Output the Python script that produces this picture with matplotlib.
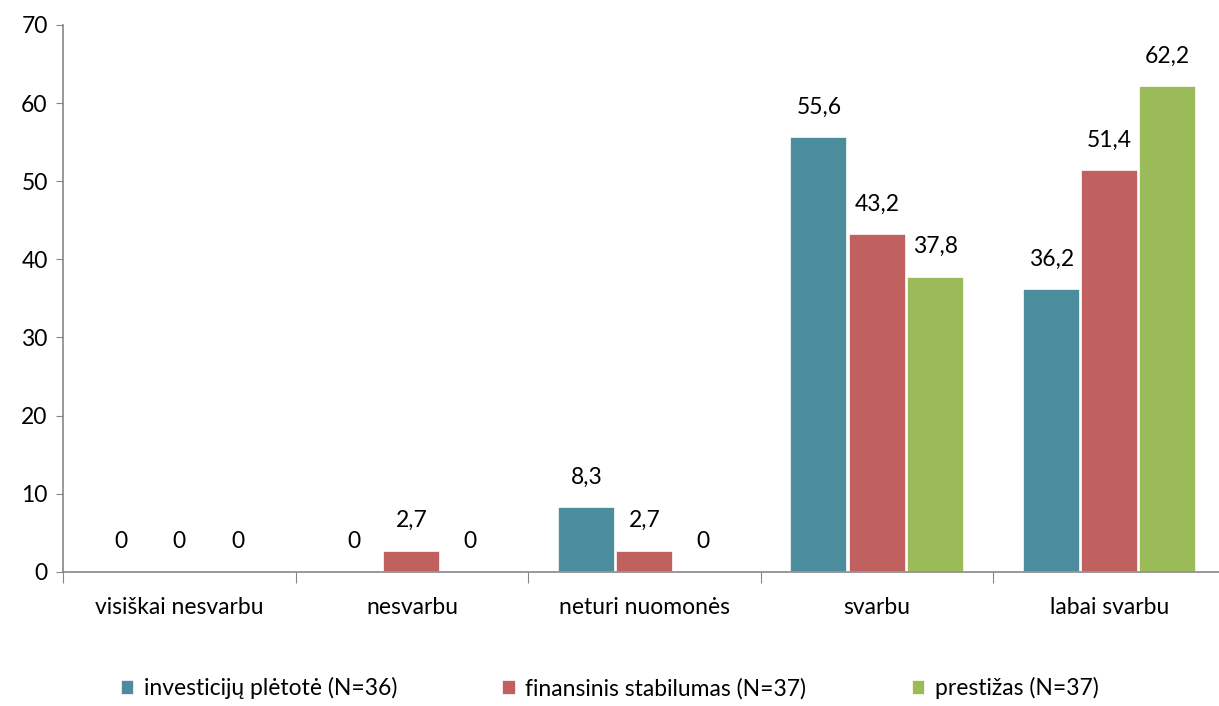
import matplotlib.pyplot as plt
import numpy as np
from matplotlib.ticker import FixedLocator, NullFormatter

plt.rcParams['font.family'] = ['Lato', 'DejaVu Sans']

categories = ["visiškai nesvarbu", "nesvarbu", "neturi nuomonės", "svarbu", "labai svarbu"]
series_names = ["investicijų plėtotė (N=36)", "finansinis stabilumas (N=37)", "prestižas (N=37)"]
investicijos = [0, 0, 8.3, 55.6, 36.2]
finansinis = [0, 2.7, 2.7, 43.2, 51.4]
prestizas = [0, 0, 0, 37.8, 62.2]
colors = ["#4B8C9D", "#C0615F", "#9BBB59"]

fig = plt.figure(figsize=(12.19, 7.06), dpi=100)
# axis runs slightly past the right edge of the picture, as in the original
ax = fig.add_axes([0.0517, 0.19, 0.954, 0.7746])

x = np.arange(len(categories))
width = 0.245
handles = []
for i, (vals, col) in enumerate(zip([investicijos, finansinis, prestizas], colors)):
    pos = x + (i - 1) * 0.25
    bars = ax.bar(pos, vals, width, color=col, edgecolor="white", linewidth=1.2,
                  label=series_names[i])
    handles.append(bars)
    for p, v in zip(pos, vals):
        txt = f"{v:g}".replace(".", ",")
        ax.annotate(txt, (p, v), xytext=(0, 14), textcoords="offset points",
                    ha="center", va="bottom", fontsize=16.5, color="black")

ax.set_xlim(-0.5, len(categories) - 0.5)
ax.set_ylim(0, 70)
ax.set_yticks(np.arange(0, 71, 10))
ax.tick_params(axis="y", labelsize=16.5, length=5, color="#868686", pad=6)

# category labels centered, ticks at boundaries
ax.xaxis.set_major_locator(FixedLocator(np.arange(-0.5, len(categories), 1)))
ax.xaxis.set_major_formatter(NullFormatter())
ax.xaxis.set_minor_locator(FixedLocator(x))
ax.set_xticklabels(categories, minor=True)
ax.tick_params(axis="x", which="major", length=8, color="#868686")
ax.tick_params(axis="x", which="minor", length=0, labelsize=16.5, pad=18)

for s in ["top", "right"]:
    ax.spines[s].set_visible(False)
for s in ["left", "bottom"]:
    ax.spines[s].set_color("#868686")
    ax.spines[s].set_linewidth(1.2)

fig.legend(handles=handles, labels=series_names, loc="lower center",
           bbox_to_anchor=(0.5, -0.02), ncol=3, frameon=False, fontsize=16.5,
           handlelength=0.6, handleheight=0.6, handletextpad=0.4, columnspacing=4.6)

fig.savefig("out.png", dpi=100)
